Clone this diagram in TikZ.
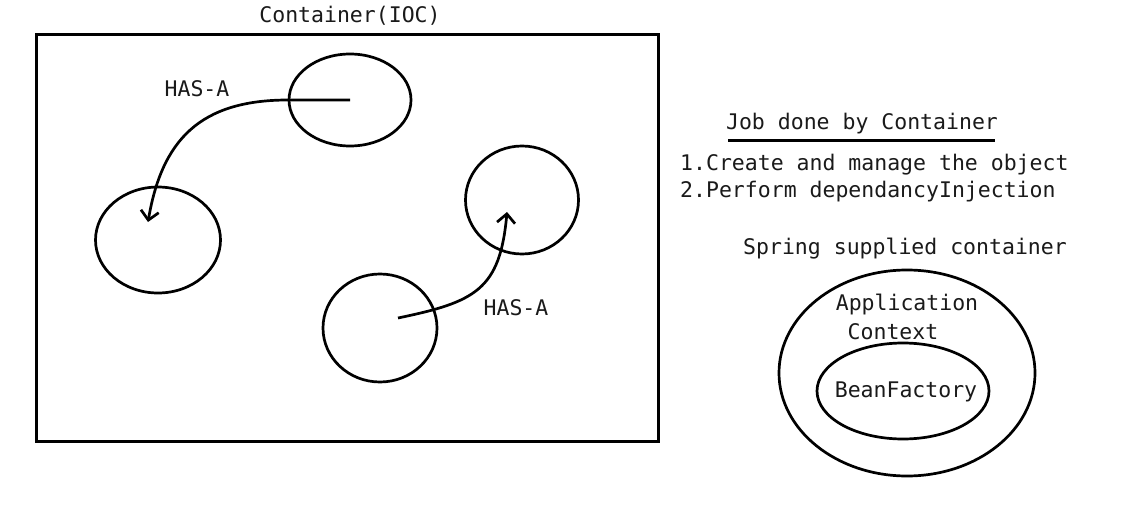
\documentclass[tikz,border=0pt]{standalone}
\usepackage{fontspec}
\newfontfamily\monofam{DejaVu Sans Mono}
\usetikzlibrary{shapes.geometric,arrows.meta,calc}
\definecolor{txt}{HTML}{1A1A1A}
\tikzset{
  obj/.style={draw=black, line width=2.7pt, ellipse, inner sep=0pt},
  lbl/.style={text=txt, inner sep=0pt, font=\monofam\fontsize{21.5}{25}\selectfont},
  link/.style={draw=black, line width=2.7pt, -{Straight Barb[length=9pt,width=18pt,line width=2.7pt]}},
}
\begin{document}
\begin{tikzpicture}[x=1pt,y=-1pt]
\useasboundingbox[fill=white] (0,0) rectangle (1143,508);
% container
\node[draw=black, line width=2.7pt, minimum width=622pt, minimum height=407pt, inner sep=0pt, anchor=north west] (box) at (35,33) {};
\node[lbl] (title) at (350,16) {Container(IOC)};
% objects
\node[obj, minimum width=122pt, minimum height=92pt] (o1) at (350,100) {};
\node[obj, minimum width=125pt, minimum height=106pt] (o2) at (158,240) {};
\node[obj, minimum width=113pt, minimum height=108pt] (o3) at (522,200) {};
\node[obj, minimum width=114pt, minimum height=108pt] (o4) at (380,328) {};
\coordinate (t1) at ($(o2.center)+(-10,-18)$);
\coordinate (t2) at ($(o3.center)+(-15,12)$);
\coordinate (s2) at ($(o4.center)+(18,-10)$);
\draw[link] (o1.center) -- ++(-62,0) .. controls (200,100) and (162,140) .. (t1);
\draw[link] (s2) .. controls (475,302) and (500,290) .. (t2);
\node[lbl] (h1) at (197,89) {HAS-A};
\node[lbl] (h2) at (516,308) {HAS-A};
% right side
\node[lbl] (job) at (862,124) {Job done by Container};
\draw[line width=3pt] (728,141) -- (995,141);
\node[lbl, anchor=west] (l1) at (680,165) {1.Create and manage the object};
\node[lbl, anchor=west] (l2) at (680,192) {2.Perform dependancyInjection};
\node[lbl] (sp) at (905,249) {Spring supplied container};
\node[obj, minimum width=256pt, minimum height=206pt] (ac) at (907,373) {};
\node[obj, minimum width=172pt, minimum height=96pt] (bf) at (903,391) {};
\node[lbl] (app) at (907,305) {Application};
\node[lbl] (ctx) at (893,332) {Context};
\node[lbl] (bft) at (906,392) {BeanFactory};
\end{tikzpicture}
\end{document}
